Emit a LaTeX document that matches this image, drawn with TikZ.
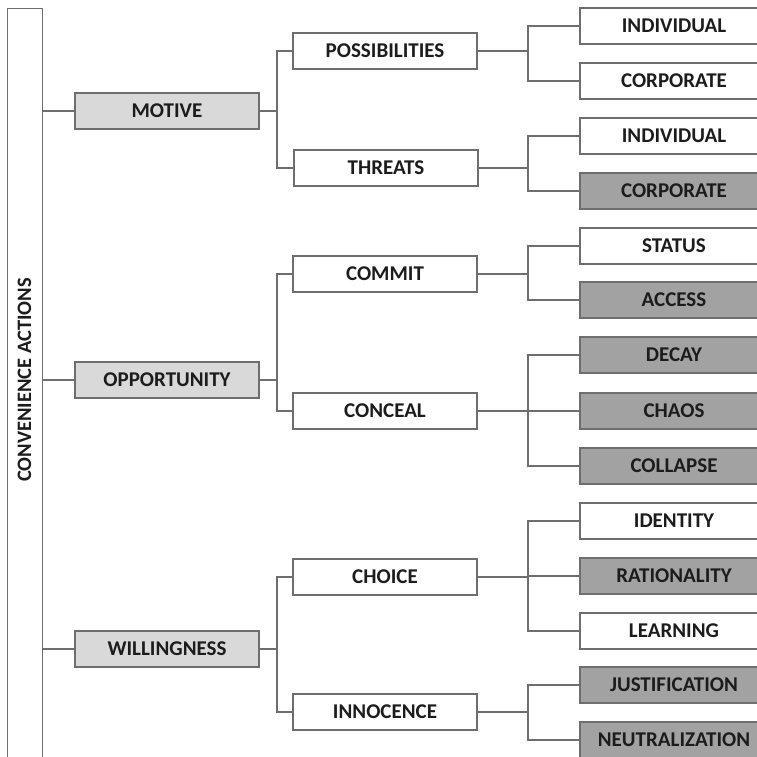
\documentclass[tikz,border=0pt]{standalone}
\usepackage{fontspec}
\setmainfont{Carlito}
\begin{document}
\begin{tikzpicture}[x=1pt,y=-1pt,
  box/.style={draw=linegray,line width=1.3pt,minimum width=184pt,minimum height=36pt,
    inner sep=0pt,font=\bfseries\fontsize{21}{24}\selectfont,text=txt},
  lvlone/.style={box,fill=lightfill},
  plain/.style={box,fill=white},
  dark/.style={box,fill=darkfill,minimum width=188pt},
  leaf/.style={box,fill=white,minimum width=188pt},
  link/.style={draw=linegray,line width=1.3pt}]
\definecolor{linegray}{HTML}{6E6E6E}
\definecolor{lightfill}{HTML}{D9D9D9}
\definecolor{darkfill}{HTML}{A2A2A2}
\definecolor{txt}{HTML}{1C1C1C}
\useasboundingbox (0,0) rectangle (757,756);
\clip (0,0) rectangle (757,756);

% bus lines between the levels
\coordinate (busA) at (277,0);
\coordinate (busB) at (528,0);

% root bar
\node[draw=linegray,line width=1.3pt,minimum width=35pt,minimum height=770pt,inner sep=0pt,anchor=north west] (root) at (7,8) {};
\node[rotate=90,font=\bfseries\fontsize{20.5}{24}\selectfont,text=txt] (roottxt) at (24.5,380) {CONVENIENCE ACTIONS};

% first level
\node[lvlone] (motive) at (167,111) {MOTIVE};
\node[lvlone] (opp) at (167,380) {OPPORTUNITY};
\node[lvlone] (will) at (167,649) {WILLINGNESS};

% second level
\node[plain] (poss) at (385,51) {POSSIBILITIES};
\node[plain] (threat) at (386,168) {THREATS};
\node[plain] (commit) at (385,274) {COMMIT};
\node[plain] (conceal) at (385,411) {CONCEAL};
\node[plain] (choice) at (385,577) {CHOICE};
\node[plain] (innoc) at (385,712) {INNOCENCE};

% third level
\node[leaf] (ind1) at (674,26) {INDIVIDUAL};
\node[leaf] (corp1) at (674,81) {CORPORATE};
\node[leaf] (ind2) at (674,136) {INDIVIDUAL};
\node[dark] (corp2) at (674,191) {CORPORATE};
\node[leaf] (status) at (674,246) {STATUS};
\node[dark] (access) at (674,300) {ACCESS};
\node[dark] (decay) at (674,355) {DECAY};
\node[dark] (chaos) at (674,411) {CHAOS};
\node[dark] (collapse) at (674,466) {COLLAPSE};
\node[leaf] (ident) at (674,521) {IDENTITY};
\node[dark] (ration) at (674,576) {RATIONALITY};
\node[leaf] (learn) at (674,631) {LEARNING};
\node[dark] (justif) at (674,685) {JUSTIFICATION};
\node[dark] (neutral) at (674,740) {NEUTRALIZATION};

% root to first level
\foreach \n in {motive,opp,will}
  \draw[link] (root.east |- \n.west) -- (\n.west);

% first to second level
\foreach \p/\a/\b in {motive/poss/threat, opp/commit/conceal, will/choice/innoc}{
  \draw[link] (\p.east) -- (\p.east -| busA);
  \draw[link] (\a.west) -- (\a.west -| busA) -- (\b.west -| busA) -- (\b.west);
}

% second to third level
\foreach \p/\a/\b in {poss/ind1/corp1, threat/ind2/corp2, commit/status/access,
                      conceal/decay/collapse, choice/ident/learn, innoc/justif/neutral}{
  \draw[link] (\p.east) -- (\p.east -| busB);
  \draw[link] (\a.west) -- (\a.west -| busB) -- (\b.west -| busB) -- (\b.west);
}
\draw[link] (chaos.west -| busB) -- (chaos.west);
\draw[link] (ration.west -| busB) -- (ration.west);
\end{tikzpicture}
\end{document}
